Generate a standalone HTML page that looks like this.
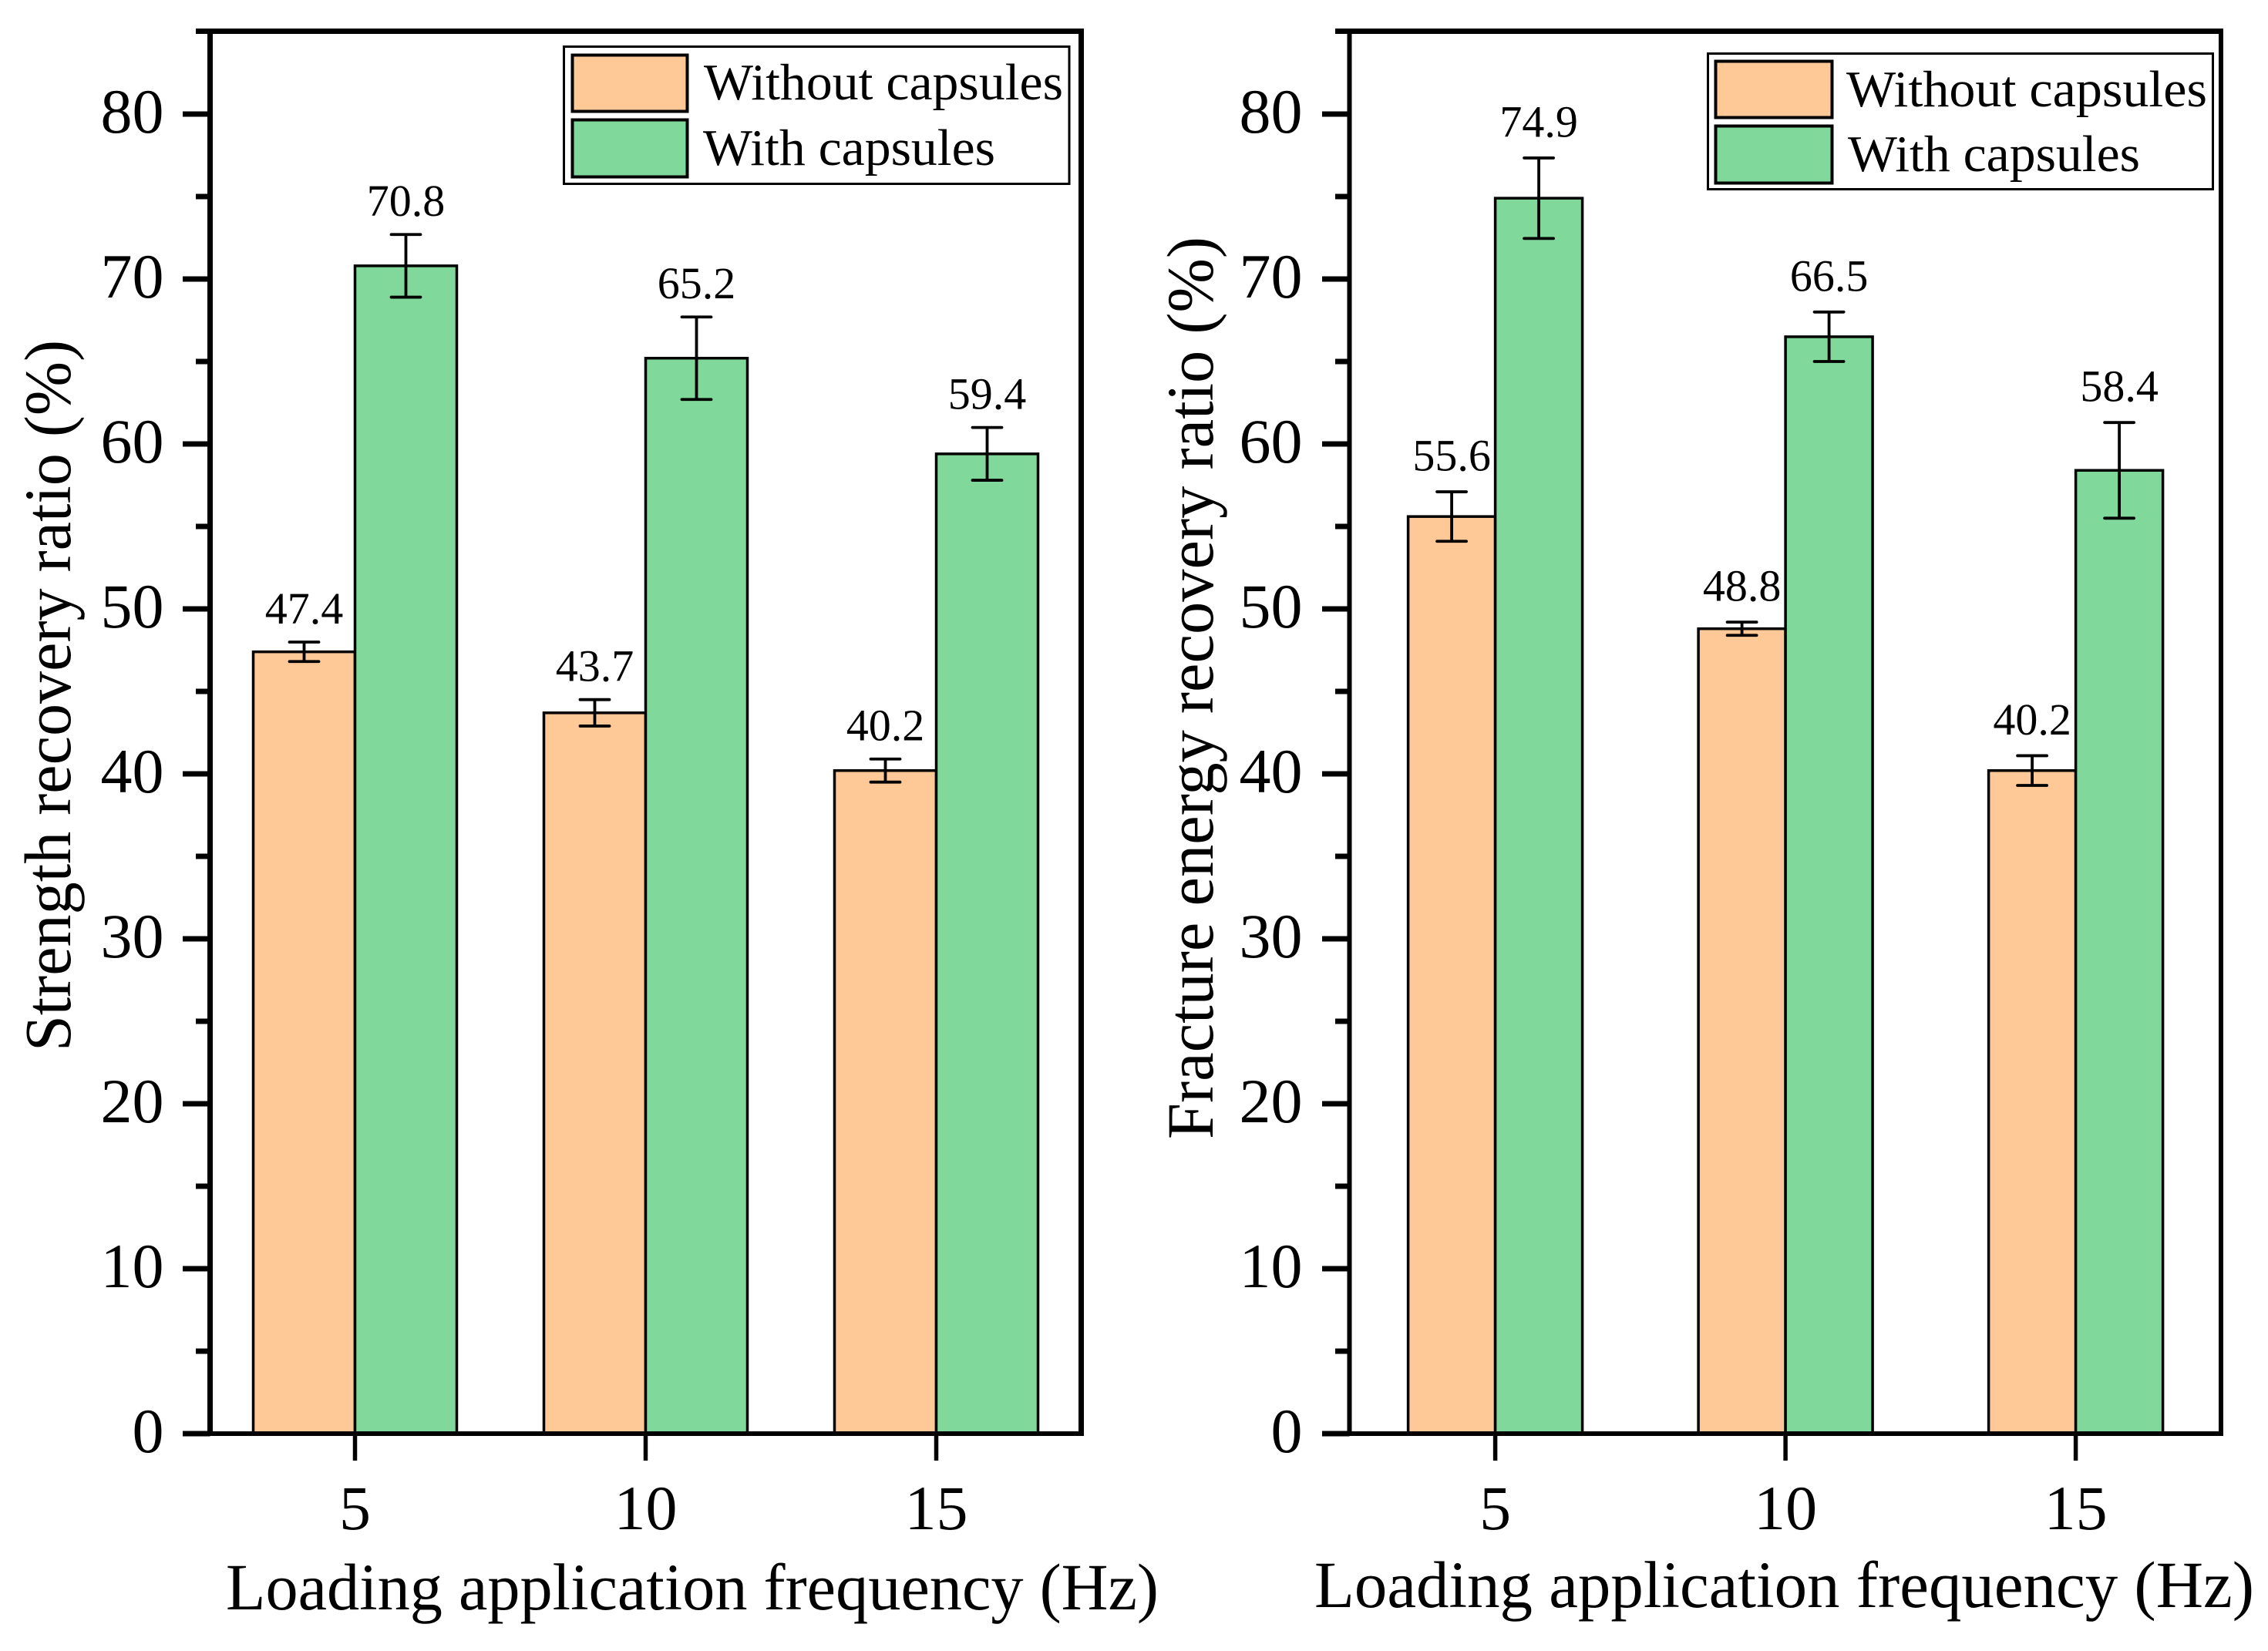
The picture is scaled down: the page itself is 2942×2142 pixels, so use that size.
<!DOCTYPE html>
<html lang="en">
<head>
<meta charset="utf-8">
<title>Recovery ratio charts</title>
<style>
html,body{margin:0;padding:0;background:#fff;}
svg{display:block;}
text{font-family:"Liberation Serif","Times New Roman",serif;fill:#000;}
</style>
</head>
<body>
<svg id="chart" xmlns="http://www.w3.org/2000/svg" width="2942" height="2142" viewBox="0 0 2942 2142">
  <rect x="0" y="0" width="2942" height="2142" fill="#fff"/>
  <g id="panel-left"></g>
  <g id="panel-right"></g>

  <text transform="translate(91 1364) rotate(-90)" font-size="86" textLength="923" lengthAdjust="spacingAndGlyphs">Strength recovery ratio (%)</text>
  <text x="293" y="2088" font-size="86" textLength="1210" lengthAdjust="spacingAndGlyphs">Loading application frequency (Hz)</text>
  <text transform="translate(1573 1478) rotate(-90)" font-size="86" textLength="1171" lengthAdjust="spacingAndGlyphs">Fracture energy recovery ratio (%)</text>
  <text x="1705" y="2085" font-size="86" textLength="1219" lengthAdjust="spacingAndGlyphs">Loading application frequency (Hz)</text>

  <g>
    <rect x="731.5" y="60.5" width="655.5" height="178" fill="#fff" stroke="#000" stroke-width="3"/>
    <rect x="742.5" y="71.5" width="149" height="73" fill="#FEC897" stroke="#000" stroke-width="4"/>
    <text x="913" y="129" font-size="67" textLength="466" lengthAdjust="spacingAndGlyphs">Without capsules</text>
    <rect x="742.5" y="155.5" width="149" height="74" fill="#80D89A" stroke="#000" stroke-width="4"/>
    <text x="912" y="214" font-size="67" textLength="379" lengthAdjust="spacingAndGlyphs">With capsules</text>
  </g>
  <g>
    <rect x="2215.5" y="69.5" width="655" height="176" fill="#fff" stroke="#000" stroke-width="3"/>
    <rect x="2225.5" y="79.5" width="151" height="73" fill="#FEC897" stroke="#000" stroke-width="4"/>
    <text x="2395" y="138" font-size="67" textLength="468" lengthAdjust="spacingAndGlyphs">Without capsules</text>
    <rect x="2225.5" y="163.5" width="151" height="74" fill="#80D89A" stroke="#000" stroke-width="4"/>
    <text x="2397" y="222" font-size="67" textLength="379" lengthAdjust="spacingAndGlyphs">With capsules</text>
  </g>
</svg>

<script>
// ---- chart data ----
const categories = ['5', '10', '15'];
const yTickLabels = [0, 10, 20, 30, 40, 50, 60, 70, 80];
const yMinorTicks = [5, 15, 25, 35, 45, 55, 65, 75];

const strengthWithout = [47.4, 43.7, 40.2];
const strengthWithoutErr = [0.59, 0.8, 0.7];
const strengthWith = [70.8, 65.2, 59.4];
const strengthWithErr = [1.9, 2.5, 1.6];

const fractureWithout = [55.6, 48.8, 40.2];
const fractureWithoutErr = [1.5, 0.4, 0.9];
const fractureWith = [74.9, 66.5, 58.4];
const fractureWithErr = [2.44, 1.5, 2.9];

const Y_MAX = 85;
const SVG_NS = 'http://www.w3.org/2000/svg';
const COLOR_WITHOUT = '#FEC897';
const COLOR_WITH = '#80D89A';
const Y_ZERO = 1860;
const Y_TOP = 41;

function yScale(v) {
  return Y_ZERO - (v / Y_MAX) * (Y_ZERO - Y_TOP);
}

function make(parent, tag, props, text) {
  const el = document.createElementNS(SVG_NS, tag);
  Object.keys(props).forEach(function (k) { el.setAttribute(k, props[k]); });
  if (text !== undefined) el.textContent = text;
  parent.appendChild(el);
  return el;
}

function drawSeries(g, layout, prefix, values, errors, color, side) {
  values.forEach(function (v, i) {
    const center = layout.firstCenter + i * layout.step;
    const x0 = side < 0 ? center - layout.barWidth : center;
    const barCenter = x0 + layout.barWidth / 2;
    const top = yScale(v);

    const bar = make(g, 'rect', {
      x: x0, y: top, width: layout.barWidth, height: Y_ZERO - top,
      fill: color, stroke: '#000', 'stroke-width': 3.5
    });
    
    

    const yHi = yScale(v + errors[i]);
    const yLo = yScale(v - errors[i]);
    const errD = 'M' + barCenter + ' ' + yHi + 'V' + yLo +
      'M' + (barCenter - 19) + ' ' + yHi + 'H' + (barCenter + 19) +
      'M' + (barCenter - 19) + ' ' + yLo + 'H' + (barCenter + 19);
    const err = make(g, 'path', {
      d: errD, fill: 'none', stroke: '#000', 'stroke-width': 3.8, 'stroke-linecap': 'round'
    });
    
    

    const label = make(g, 'text', {
      x: barCenter, y: yHi - layout.labelGap, 'font-size': 58, 'text-anchor': 'middle'
    }, v.toFixed(1));
    
    
  });
}

function drawAxes(g, layout) {
  const frame = make(g, 'path', {
    d: 'M' + layout.axisX + ' ' + Y_TOP + 'V' + Y_ZERO +
       'M' + layout.rightX + ' ' + Y_TOP + 'V' + Y_ZERO,
    fill: 'none', stroke: '#000', 'stroke-width': layout.spineWidth
  });
  
  

  const rightEdge = layout.rightX + layout.spineWidth / 2;

  const topLine = make(g, 'line', {
    x1: layout.axisX - 18.5, x2: rightEdge, y1: 40.5, y2: 40.5,
    stroke: '#000', 'stroke-width': 7
  });
  
  

  yTickLabels.forEach(function (t) {
    const y = yScale(t);
    const tick = make(g, 'line', {
      x1: layout.axisX - 35.5, x2: layout.axisX, y1: y, y2: y,
      stroke: '#000', 'stroke-width': 7
    });
    
    

    const label = make(g, 'text', {
      x: layout.axisX + layout.tickLabelDx, y: y + 24, 'font-size': 82, 'text-anchor': 'end'
    }, String(t));
    
    
  });

  yMinorTicks.forEach(function (t) {
    const y = yScale(t);
    const tick = make(g, 'line', {
      x1: layout.axisX - 18.5, x2: layout.axisX, y1: y, y2: y,
      stroke: '#000', 'stroke-width': 7
    });
    
    
  });

  const xAxis = make(g, 'line', {
    x1: layout.axisX - 35.5, x2: rightEdge, y1: Y_ZERO, y2: Y_ZERO,
    stroke: '#000', 'stroke-width': 6
  });
  
  

  categories.forEach(function (c, i) {
    const x = layout.firstCenter + i * layout.step;
    const tick = make(g, 'line', {
      x1: x, x2: x, y1: Y_ZERO, y2: 1895, stroke: '#000', 'stroke-width': 5.5
    });
    
    

    const label = make(g, 'text', {
      x: x, y: 1984, 'font-size': 82, 'text-anchor': 'middle'
    }, c);
    
    
  });
}

const leftLayout = { axisX: 272.5, rightX: 1402.5, firstCenter: 460.5, step: 377, barWidth: 132, labelGap: 24, spineWidth: 7, tickLabelDx: -60 };
const rightLayout = { axisX: 1750.5, rightX: 2881, firstCenter: 1939.6, step: 376.5, barWidth: 113, labelGap: 27.5, spineWidth: 6, tickLabelDx: -61 };

const leftG = document.getElementById('panel-left');
drawSeries(leftG, leftLayout, 'strength-without-capsules', strengthWithout, strengthWithoutErr, COLOR_WITHOUT, -1);
drawSeries(leftG, leftLayout, 'strength-with-capsules', strengthWith, strengthWithErr, COLOR_WITH, 1);
drawAxes(leftG, leftLayout);

const rightG = document.getElementById('panel-right');
drawSeries(rightG, rightLayout, 'fracture-without-capsules', fractureWithout, fractureWithoutErr, COLOR_WITHOUT, -1);
drawSeries(rightG, rightLayout, 'fracture-with-capsules', fractureWith, fractureWithErr, COLOR_WITH, 1);
drawAxes(rightG, rightLayout);
</script>
</body>
</html>
